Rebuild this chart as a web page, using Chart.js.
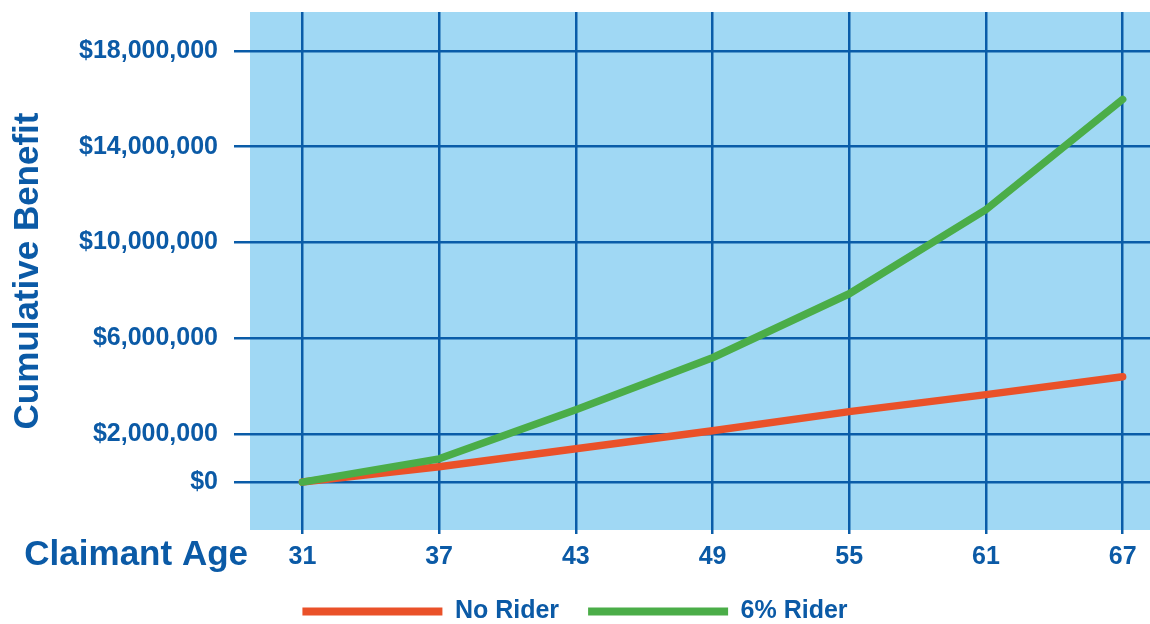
<!DOCTYPE html>
<html>
<head>
<meta charset="utf-8">
<script src="https://cdn.jsdelivr.net/npm/chart.js@4"></script>
<style>
    html, body { margin: 0; padding: 0; background: #fff; }
    #wrap { width: 1150px; height: 624px; position: relative; }
</style>
</head>
<body>
<div id="wrap"><canvas id="benefit-chart" width="1150" height="624"></canvas></div>
<script>
// Chart data
const ages = [31, 37, 43, 49, 55, 61, 67];
const noRider = [0, 640000, 1390000, 2140000, 2940000, 3650000, 4400000];
const sixPctRider = [0, 970000, 3020000, 5190000, 7860000, 11370000, 15970000];
const yTicks = [0, 2000000, 6000000, 10000000, 14000000, 18000000];

const textBlue = '#0b5aa6';
const gridBlue = '#0a5ca8';
const plotBg = '#a0d8f4';
const fontFamily = '"Liberation Sans", Arial, sans-serif';

// Fill the plot area and draw the x-axis label to the left of the ticks
const plotArea = {
    id: 'plotArea',
    beforeDraw(chart) {
        const { ctx, chartArea } = chart;
        ctx.save();
        ctx.fillStyle = plotBg;
        ctx.fillRect(chartArea.left, chartArea.top, chartArea.right - chartArea.left, chartArea.bottom - chartArea.top);
        ctx.restore();
    },
    afterDraw(chart) {
        const { ctx, chartArea } = chart;
        ctx.save();
        ctx.fillStyle = textBlue;
        ctx.font = 'bold 35px ' + fontFamily;
        ctx.textAlign = 'right';
        ctx.textBaseline = 'middle';
        ctx.fillText('Claimant Age', chartArea.left - 2, chartArea.bottom + 25);
        ctx.restore();
    }
};

new Chart(document.getElementById('benefit-chart'), {
    type: 'line',
    data: {
        datasets: [
            {
                label: 'No Rider',
                data: ages.map((a, i) => ({ x: a, y: noRider[i] })),
                borderColor: '#ea5129',
                backgroundColor: '#ea5129',
                borderWidth: 7.5,
                order: 1
            },
            {
                label: '6% Rider',
                data: ages.map((a, i) => ({ x: a, y: sixPctRider[i] })),
                borderColor: '#4bad48',
                backgroundColor: '#4bad48',
                borderWidth: 7.5,
                order: 0
            }
        ]
    },
    options: {
        responsive: false,
        animation: false,
        layout: { autoPadding: false, padding: { top: 12, right: 0, left: 0, bottom: -10 } },
        elements: {
            point: { radius: 0, hoverRadius: 0 },
            line: { tension: 0, borderCapStyle: 'round', borderJoinStyle: 'round' }
        },
        scales: {
            x: {
                type: 'linear',
                min: 28.7,
                max: 68.2,
                afterBuildTicks: scale => { scale.ticks = ages.map(v => ({ value: v })); },
                afterFit: scale => { scale.height = 40; },
                grid: { color: gridBlue, lineWidth: 2.5, tickLength: 4, drawTicks: true },
                border: { display: false },
                ticks: {
                    color: textBlue,
                    padding: 8,
                    maxRotation: 0,
                    font: { family: fontFamily, size: 25, weight: 'bold' }
                }
            },
            y: {
                min: -2000000,
                max: 19620000,
                afterBuildTicks: scale => { scale.ticks = yTicks.map(v => ({ value: v })); },
                afterFit: scale => {
                    scale.width = 250;
                    scale.paddingTop = 0;
                    scale.paddingBottom = 0;
                },
                grid: { color: gridBlue, lineWidth: 2.5, tickLength: 16 },
                border: { display: false },
                ticks: {
                    color: textBlue,
                    padding: 16,
                    font: { family: fontFamily, size: 25, weight: 'bold' },
                    callback: v => '$' + v.toLocaleString('en-US')
                },
                title: {
                    display: true,
                    text: 'Cumulative Benefit',
                    color: textBlue,
                    padding: { top: 7, bottom: 0 },
                    font: { family: fontFamily, size: 35, weight: 'bold' }
                }
            }
        },
        plugins: {
            tooltip: { enabled: false },
            legend: {
                position: 'bottom',
                labels: {
                    color: textBlue,
                    boxWidth: 140,
                    boxHeight: 8,
                    padding: 29,
                    font: { family: fontFamily, size: 25, weight: 'bold' },
                    sort: (a, b) => a.datasetIndex - b.datasetIndex,
                    generateLabels: chart =>
                        Chart.defaults.plugins.legend.labels.generateLabels(chart)
                            .map(item => ({ ...item, lineWidth: 0 }))
                }
            }
        }
    },
    plugins: [plotArea]
});
</script>
</body>
</html>
